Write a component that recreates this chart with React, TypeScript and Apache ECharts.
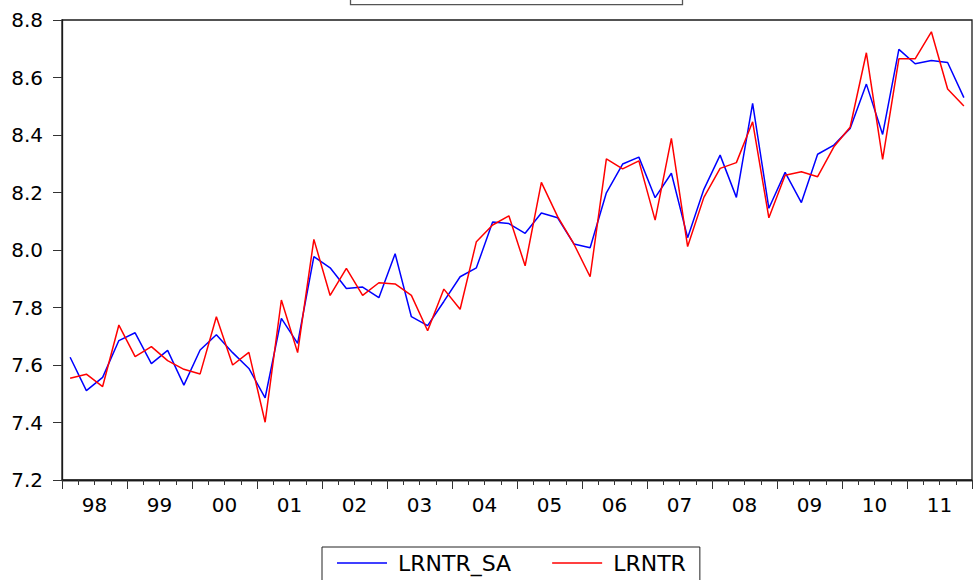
import React, { useEffect, useRef } from "react";
import * as echarts from "echarts";

// Year labels shown on the horizontal axis (1998-2011)
const years = ["98", "99", "00", "01", "02", "03", "04", "05", "06", "07", "08", "09", "10", "11"];

// One category per quarter
const quarters: string[] = years.flatMap((y) => ["Q1", "Q2", "Q3", "Q4"].map((q) => `${y}${q}`));

// Seasonally adjusted log series
const lrntrSa = [
  7.627, 7.511, 7.557, 7.685,
  7.712, 7.605, 7.651, 7.530,
  7.652, 7.705, 7.643, 7.588,
  7.486, 7.762, 7.675, 7.977,
  7.938, 7.866, 7.871, 7.834,
  7.987, 7.768, 7.737, 7.821,
  7.907, 7.938, 8.097, 8.092,
  8.058, 8.129, 8.112, 8.021,
  8.008, 8.199, 8.299, 8.323,
  8.182, 8.267, 8.043, 8.211,
  8.330, 8.183, 8.510, 8.145,
  8.270, 8.165, 8.333, 8.365,
  8.423, 8.577, 8.402, 8.698,
  8.648, 8.659, 8.652, 8.530,
];

// Unadjusted log series
const lrntr = [
  7.554, 7.568, 7.525, 7.739,
  7.629, 7.664, 7.615, 7.585,
  7.569, 7.768, 7.600, 7.644,
  7.401, 7.826, 7.643, 8.037,
  7.842, 7.936, 7.842, 7.886,
  7.882, 7.842, 7.719, 7.864,
  7.794, 8.029, 8.087, 8.119,
  7.945, 8.235, 8.116, 8.021,
  7.907, 8.317, 8.282, 8.310,
  8.104, 8.388, 8.012, 8.183,
  8.284, 8.304, 8.446, 8.112,
  8.260, 8.272, 8.255, 8.359,
  8.427, 8.686, 8.315, 8.665,
  8.665, 8.759, 8.560, 8.501,
];

const FONT = "'DejaVu Sans', Arial, sans-serif";

export default function App() {
  const ref = useRef<HTMLDivElement>(null);

  useEffect(() => {
    if (!ref.current) return;
    const chart = echarts.init(ref.current, null, { renderer: "svg" });
    chart.setOption({
      animation: false,
      backgroundColor: "#ffffff",
      grid: {
        left: 62,
        right: 1,
        top: 20,
        bottom: 100,
        show: true,
        borderColor: "#1a1a1a",
        borderWidth: 1.3,
        backgroundColor: "transparent",
      },
      xAxis: [
        {
          type: "category",
          data: quarters,
          boundaryGap: true,
          position: "bottom",
          axisLine: { show: true, lineStyle: { color: "#1a1a1a", width: 1.3 } },
          axisTick: { show: true, interval: 0, length: 5, lineStyle: { color: "#333", width: 1 } },
          axisLabel: { show: false },
          splitLine: { show: false },
        },
        {
          type: "category",
          data: years,
          boundaryGap: true,
          position: "bottom",
          axisLine: { show: true, lineStyle: { color: "#1a1a1a", width: 1.3 } },
          axisTick: { show: true, interval: 0, length: 9, lineStyle: { color: "#333", width: 1 } },
          axisLabel: { interval: 0, margin: 15, fontSize: 20, fontFamily: FONT, color: "#000" },
          splitLine: { show: false },
        },
      ],
      yAxis: {
        type: "value",
        min: 7.2,
        max: 8.8,
        interval: 0.2,
        axisLine: { show: true, lineStyle: { color: "#1a1a1a", width: 1.3 } },
        axisTick: { show: true, length: 9, lineStyle: { color: "#333", width: 1 } },
        axisLabel: {
          margin: 19,
          fontSize: 20,
          fontFamily: FONT,
          color: "#000",
          formatter: (v: number) => v.toFixed(1),
        },
        splitLine: { show: false },
      },
      legend: {
        data: ["LRNTR_SA", "LRNTR"],
        orient: "horizontal",
        left: 322,
        top: 547,
        padding: [5, 14, 12, 15],
        borderColor: "#222",
        borderWidth: 1,
        backgroundColor: "#fff",
        icon: "rect",
        itemWidth: 50,
        itemHeight: 1.5,
        itemGap: 41,
        selectedMode: false,
        textStyle: { fontSize: 22, fontFamily: FONT, color: "#000", padding: [0, 0, 0, 6] },
      },
      graphic: [
        {
          type: "rect",
          shape: { x: 350.5, y: -10, width: 332, height: 14.7 },
          style: { fill: "#fff", stroke: "#555", lineWidth: 1.3 },
          z: 10,
        },
      ],
      series: [
        {
          name: "LRNTR_SA",
          type: "line",
          xAxisIndex: 0,
          data: lrntrSa,
          symbol: "none",
          lineStyle: { color: "#0000ff", width: 1.5 },
          itemStyle: { color: "#0000ff" },
        },
        {
          name: "LRNTR",
          type: "line",
          xAxisIndex: 0,
          data: lrntr,
          symbol: "none",
          lineStyle: { color: "#ff0000", width: 1.5 },
          itemStyle: { color: "#ff0000" },
        },
      ],
    });
    return () => chart.dispose();
  }, []);

  return (
    <div
      ref={ref}
      style={{ position: "fixed", left: 0, top: 0, width: 973, height: 580, background: "#fff" }}
    />
  );
}
